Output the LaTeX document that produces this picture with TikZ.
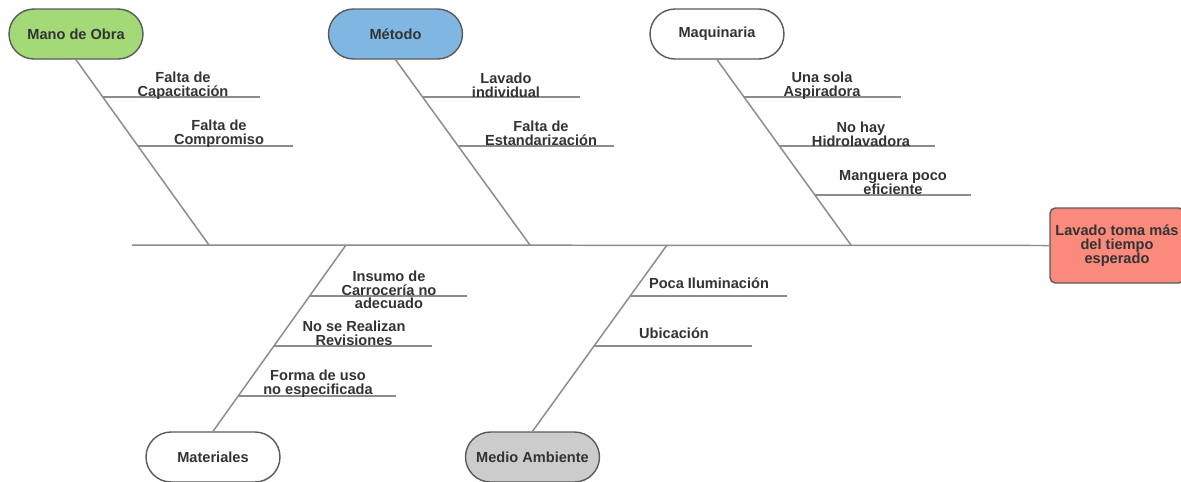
\documentclass[tikz,border=0pt]{standalone}
\usepackage{fontspec}
\setmainfont{Liberation Sans}
\usetikzlibrary{positioning}
\definecolor{obra}{RGB}{163,217,119}
\definecolor{metodo}{RGB}{128,182,226}
\definecolor{medio}{RGB}{204,204,204}
\definecolor{efecto}{RGB}{250,138,124}
\definecolor{borde}{RGB}{90,90,90}
\definecolor{linea}{RGB}{140,140,140}
\definecolor{texto}{RGB}{51,51,51}
\tikzset{
    cat/.style={draw=borde, line width=0.8pt, rounded corners=0.5cm,
        minimum width=2.68cm, minimum height=1cm, inner sep=0pt,
        font=\bfseries\fontsize{8.3}{9}\selectfont, text=texto},
    bone/.style={draw=linea, line width=0.85pt},
    why/.style={align=center, inner sep=0pt, text=texto,
        font=\bfseries\fontsize{8.3}{7.8}\selectfont},
}

\begin{document}
\begin{tikzpicture}[x=0.02cm, y=-0.02cm]
\useasboundingbox (0,0) rectangle (1181,481);

\node[cat, fill=obra] (mo) at (76,34) {Mano de Obra};
\node[cat, fill=metodo] (met) at (395.5,34) {Método};
\node[cat, fill=white] (maq) at (717,34) {Maquinaria};
\node[cat, fill=white] (mat) at (213,457) {Materiales};
\node[cat, fill=medio] (med) at (532.5,457) {Medio Ambiente};

\node[draw=borde, line width=0.8pt, fill=efecto, rounded corners=3pt,
    minimum width=2.68cm, minimum height=1.5cm, inner sep=0pt,
    align=center, text=texto, font=\bfseries\fontsize{8.3}{7.8}\selectfont]
    (fx) at (1117,245.5) {Lavado toma más\\del tiempo\\esperado};

\coordinate (tail) at (132,245);
\draw[bone] (tail) -- (fx.west);

\coordinate (mo-end) at (209,245);
\coordinate (met-end) at (530,245);
\coordinate (maq-end) at (851,245);
\coordinate (mat-end) at (346,245);
\coordinate (med-end) at (667,245);
\draw[bone] (mo.south) -- (mo-end);
\draw[bone] (met.south) -- (met-end);
\draw[bone] (maq.south) -- (maq-end);
\draw[bone] (mat.north) -- (mat-end);
\draw[bone] (med.north) -- (med-end);

% mano de obra
\coordinate (mo1) at (103.2,97);  \coordinate (mo1e) at (260,97);
\coordinate (mo2) at (138.2,146); \coordinate (mo2e) at (293,146);
\draw[bone] (mo1) -- (mo1e);
\draw[bone] (mo2) -- (mo2e);
\node[why] (mo1t) at (183,85.5) {Falta de\\Capacitación};
\node[why] (mo2t) at (219,133.5) {Falta de\\Compromiso};

% metodo
\coordinate (met1) at (423,97);    \coordinate (met1e) at (580,97);
\coordinate (met2) at (458.4,146); \coordinate (met2e) at (614,146);
\draw[bone] (met1) -- (met1e);
\draw[bone] (met2) -- (met2e);
\node[why] (met1t) at (506,85.5) {Lavado\\individual};
\node[why] (met2t) at (541,133.5) {Falta de\\Estandarización};

% maquinaria
\coordinate (maq1) at (744.4,97);  \coordinate (maq1e) at (901,97);
\coordinate (maq2) at (779.7,146); \coordinate (maq2e) at (935,146);
\coordinate (maq3) at (814.9,195); \coordinate (maq3e) at (971,195);
\draw[bone] (maq1) -- (maq1e);
\draw[bone] (maq2) -- (maq2e);
\draw[bone] (maq3) -- (maq3e);
\node[why] (maq1t) at (822,85.5) {Una sola\\Aspiradora};
\node[why] (maq2t) at (861,134) {No hay\\Hidrolavadora};
\node[why] (maq3t) at (893,182.5) {Manguera poco\\eficiente};

% materiales
\coordinate (mat1) at (309.7,296); \coordinate (mat1e) at (467,296);
\coordinate (mat2) at (274.2,346); \coordinate (mat2e) at (432,346);
\coordinate (mat3) at (238.6,396); \coordinate (mat3e) at (396,396);
\draw[bone] (mat1) -- (mat1e);
\draw[bone] (mat2) -- (mat2e);
\draw[bone] (mat3) -- (mat3e);
\node[why] (mat1t) at (389,290) {Insumo de\\Carrocería no\\adecuado};
\node[why] (mat2t) at (354,333.5) {No se Realizan\\Revisiones};
\node[why] (mat3t) at (318,384) {Forma de uso\\no especificada};

% medio ambiente
\coordinate (med1) at (630.3,296); \coordinate (med1e) at (787,296);
\coordinate (med2) at (594.3,346); \coordinate (med2e) at (752,346);
\draw[bone] (med1) -- (med1e);
\draw[bone] (med2) -- (med2e);
\node[why] (med1t) at (709,283) {Poca Iluminación};
\node[why] (med2t) at (674,333) {Ubicación};

\end{tikzpicture}
\end{document}
